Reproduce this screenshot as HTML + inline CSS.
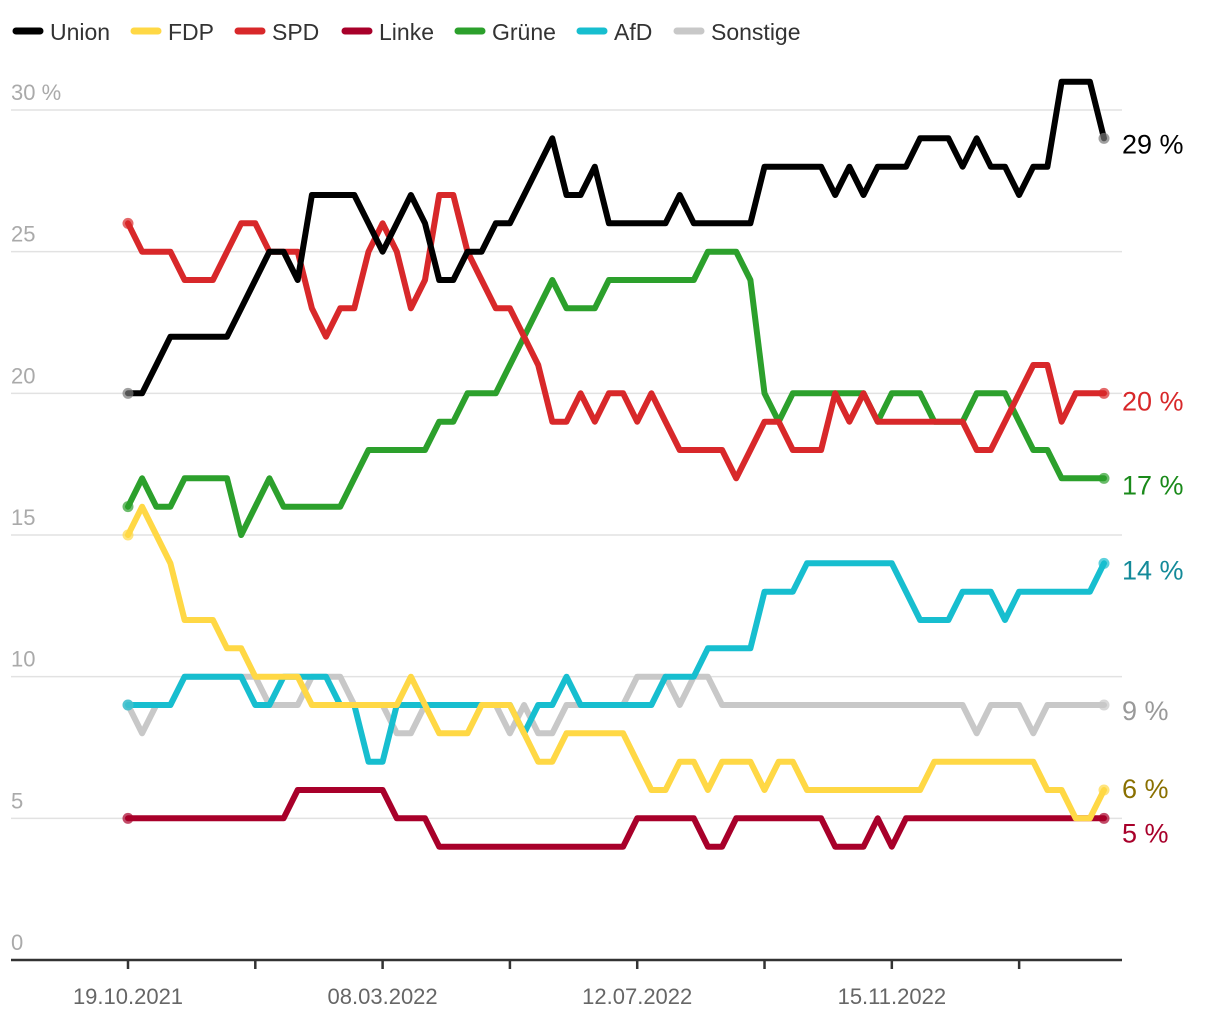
<!DOCTYPE html>
<html><head><meta charset="utf-8"><style>
body{margin:0;background:#fff;}
svg{display:block;font-family:"Liberation Sans",sans-serif;}
</style></head><body>
<svg id="chart" width="1220" height="1020" viewBox="0 0 1220 1020" xmlns="http://www.w3.org/2000/svg">
<g id="legend"></g>
<g id="grid"></g>
<g id="axis"></g>
<g id="lines"></g>
<g id="ends"></g>
</svg>
<script>
const parties = ["Union","FDP","SPD","Linke","Grüne","AfD","Sonstige"];
const colors = ["#000000","#ffd845","#d8282a","#a8002a","#2ca02c","#17becf","#c8c8c8"];
const labelColors = ["#000000","#8a7000","#d8282a","#a8002a","#1a8a1a","#138a99","#999999"];
const union = [20,20,21,22,22,22,22,22,23,24,25,25,24,27,27,27,27,26,25,26,27,26,24,24,25,25,26,26,27,28,29,27,27,28,26,26,26,26,26,27,26,26,26,26,26,28,28,28,28,28,27,28,27,28,28,28,29,29,29,28,29,28,28,27,28,28,31,31,31,29];
const fdp = [15,16,15,14,12,12,12,11,11,10,10,10,10,9,9,9,9,9,9,9,10,9,8,8,8,9,9,9,8,7,7,8,8,8,8,8,7,6,6,7,7,6,7,7,7,6,7,7,6,6,6,6,6,6,6,6,6,7,7,7,7,7,7,7,7,6,6,5,5,6];
const spd = [26,25,25,25,24,24,24,25,26,26,25,25,25,23,22,23,23,25,26,25,23,24,27,27,25,24,23,23,22,21,19,19,20,19,20,20,19,20,19,18,18,18,18,17,18,19,19,18,18,18,20,19,20,19,19,19,19,19,19,19,18,18,19,20,21,21,19,20,20,20];
const linke = [5,5,5,5,5,5,5,5,5,5,5,5,6,6,6,6,6,6,6,5,5,5,4,4,4,4,4,4,4,4,4,4,4,4,4,4,5,5,5,5,5,4,4,5,5,5,5,5,5,5,4,4,4,5,4,5,5,5,5,5,5,5,5,5,5,5,5,5,5,5];
const gruene = [16,17,16,16,17,17,17,17,15,16,17,16,16,16,16,16,17,18,18,18,18,18,19,19,20,20,20,21,22,23,24,23,23,23,24,24,24,24,24,24,24,25,25,25,24,20,19,20,20,20,20,20,20,19,20,20,20,19,19,19,20,20,20,19,18,18,17,17,17,17];
const afd = [9,9,9,9,10,10,10,10,10,9,9,10,10,10,10,9,9,7,7,9,9,9,9,9,9,9,9,9,8,9,9,10,9,9,9,9,9,9,10,10,10,11,11,11,11,13,13,13,14,14,14,14,14,14,14,13,12,12,12,13,13,13,12,13,13,13,13,13,13,14];
const sonstige = [9,8,9,9,10,10,10,10,10,10,9,9,9,10,10,10,9,9,9,8,8,9,9,9,9,9,9,8,9,8,8,9,9,9,9,9,10,10,10,9,10,10,9,9,9,9,9,9,9,9,9,9,9,9,9,9,9,9,9,9,8,9,9,9,8,9,9,9,9,9];
const series = [union,fdp,spd,linke,gruene,afd,sonstige];
const yTicks = [0,5,10,15,20,25,30];
const xTickLabels = ["19.10.2021","08.03.2022","12.07.2022","15.11.2022"];
const xTickEvery = 9;

const NS="http://www.w3.org/2000/svg";
const X0=128, X1=1104, Y0=960, Y30=110;
const n = union.length;
function xs(i){return X0+(X1-X0)*i/(n-1);}
function ys(v){return Y0-(Y0-Y30)*v/30;}
function mk(tag,attrs,parent){const e=document.createElementNS(NS,tag);for(const k in attrs)e.setAttribute(k,attrs[k]);parent.appendChild(e);return e;}

// legend
const lg=document.getElementById('legend');
const legendX=[13,131,235,342,455,577,674];
parties.forEach((p,i)=>{
  const g=mk('g',{},lg);
  
  
  mk('line',{x1:legendX[i]+3,y1:31,x2:legendX[i]+27,y2:31,stroke:colors[i],'stroke-width':7,'stroke-linecap':'round'},g);
  const t=mk('text',{x:legendX[i]+37,y:40,'font-size':23,fill:'#333'},g);
  t.textContent=p;
});

// grid
const gr=document.getElementById('grid');
yTicks.forEach(v=>{
  if(v>0){
    const l=mk('line',{x1:11,y1:ys(v),x2:1122,y2:ys(v),stroke:'#e2e2e2','stroke-width':1.5},gr);
    
    
  }
  const t=mk('text',{x:11,y:ys(v)-10,'font-size':22,fill:'#aaaaaa'},gr);
  
  
  t.textContent = v===30 ? '30 %' : String(v);
});

// x axis
const ax=document.getElementById('axis');
mk('line',{x1:11,y1:Y0,x2:1122,y2:Y0,stroke:'#333','stroke-width':2.5},ax);
for(let i=0;i<n;i+=xTickEvery){
  const tk=mk('line',{x1:xs(i),y1:Y0,x2:xs(i),y2:Y0+9,stroke:'#333','stroke-width':2.5},ax);
  
  
  const k=i/xTickEvery;
  if(k%2===0 && xTickLabels[k/2]){
    const t=mk('text',{x:xs(i),y:1004,'font-size':22,fill:'#666','text-anchor':'middle'},ax);
    
    
    t.textContent=xTickLabels[k/2];
  }
}

// lines
const ln=document.getElementById('lines');
const order=[6,5,3,1,4,2,0];
order.forEach(si=>{
  const d=series[si].map((v,i)=>(i?'L':'M')+xs(i).toFixed(1)+','+ys(v).toFixed(1)).join(' ');
  const p=mk('path',{d:d,fill:'none',stroke:colors[si],'stroke-width':6,'stroke-linejoin':'round','stroke-linecap':'round'},ln);
  
  
});
order.forEach(si=>{
  const s=series[si];
  [0,n-1].forEach(i=>{
    const c=mk('circle',{cx:xs(i),cy:ys(s[i]),r:5.5,fill:si===0?'#777':colors[si],'fill-opacity':0.7},ln);
    
    
  });
});

// end labels
const en=document.getElementById('ends');
const labelOffset={0:15,1:8,2:17,3:24,4:16,5:16,6:15};
series.forEach((s,si)=>{
  const v=s[n-1];
  const t=mk('text',{x:1122,y:ys(v)+labelOffset[si],'font-size':27,fill:labelColors[si]},en);
  
  
  t.textContent=v+' %';
});
</script>
</body></html>
